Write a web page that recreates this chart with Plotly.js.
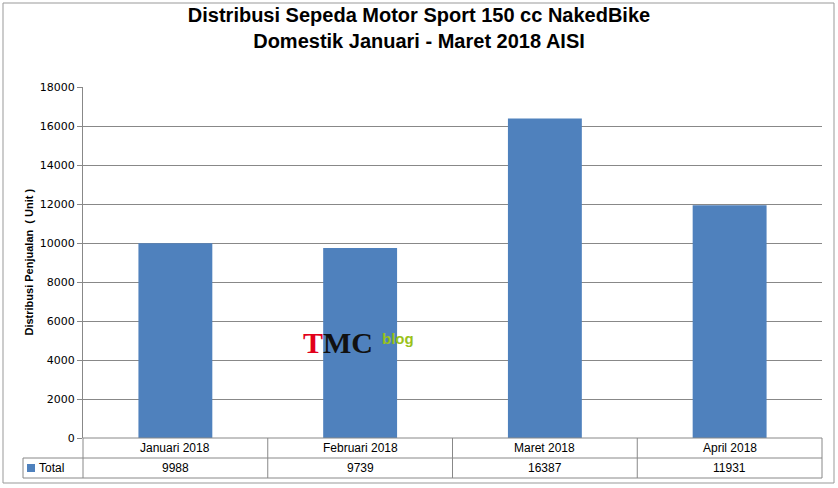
<!DOCTYPE html><html><head><script src="https://cdn.plot.ly/plotly-3.0.1.min.js"></script>
<style>body{margin:0}</style></head><body><div id="c" style="width:838px;height:488px"></div><script>
const categories=["Januari 2018","Februari 2018","Maret 2018","April 2018"];
const totals=[9988,9739,16387,11931];
const seriesName="Total";
const W=838,H=488,L=83,R=822,T=87,B=438;
const px=x=>(x-L)/(R-L), py=y=>(B-y)/(B-T);
const line='#888';
const shapes=[
 {type:'rect',xref:'paper',yref:'paper',x0:px(3),x1:px(834),y0:py(483),y1:py(3),line:{color:'#999',width:1}},
 {type:'line',xref:'paper',yref:'paper',x0:px(L),x1:px(R),y0:py(438),y1:py(438),line:{color:line,width:1}},
 {type:'line',xref:'paper',yref:'paper',x0:px(23),x1:px(R),y0:py(458),y1:py(458),line:{color:line,width:1}},
 {type:'line',xref:'paper',yref:'paper',x0:px(23),x1:px(R),y0:py(478),y1:py(478),line:{color:line,width:1}},
 {type:'line',xref:'paper',yref:'paper',x0:px(23),x1:px(23),y0:py(458),y1:py(478),line:{color:line,width:1}},
 {type:'rect',xref:'paper',yref:'paper',x0:px(27),x1:px(35),y0:py(472),y1:py(464),fillcolor:'#4f81bd',line:{width:0}}
];
const ann=[];
const tf={family:'Liberation Sans Narrow, Liberation Sans',size:12,color:'#000'};
for(let i=0;i<=categories.length;i++){const x=i/categories.length;
 shapes.push({type:'line',xref:'paper',yref:'paper',x0:x,x1:x,y0:py(438),y1:py(478),line:{color:line,width:1}});}
categories.forEach((c,i)=>{const x=(i+0.5)/categories.length;
 ann.push({xref:'paper',yref:'paper',x:x,y:py(448),xanchor:'center',yanchor:'middle',text:c,showarrow:false,font:tf});
 ann.push({xref:'paper',yref:'paper',x:x,y:py(468),xanchor:'center',yanchor:'middle',text:String(totals[i]),showarrow:false,font:tf});});
ann.push({xref:'paper',yref:'paper',x:px(37),xanchor:'left',yanchor:'middle',y:py(468),text:seriesName,showarrow:false,font:tf});
ann.push({xref:'paper',yref:'paper',x:px(28),xanchor:'center',yanchor:'middle',y:0.5,text:'<b>Distribusi Penjualan  ( Unit )</b>',textangle:-90,showarrow:false,font:{family:'Liberation Sans Narrow, Liberation Sans',size:11,color:'#000'}});
ann.push({xref:'paper',yref:'paper',x:px(338),y:py(342),xanchor:'center',yanchor:'middle',text:'<b><span style="color:#e2001a">T</span>MC</b>',showarrow:false,font:{family:'Liberation Serif',size:30,color:'#111'}});
ann.push({xref:'paper',yref:'paper',x:px(398),y:py(338),xanchor:'center',yanchor:'middle',text:'<b>blog</b>',showarrow:false,font:{family:'Liberation Sans',size:15,color:'#9ac21a'}});
Plotly.newPlot('c',[{type:'bar',x:categories,y:totals,name:seriesName,marker:{color:'#4f81bd'},width:0.4}],{
 width:W,height:H,margin:{l:L,r:W-R,t:T,b:H-B},showlegend:false,paper_bgcolor:'#fff',plot_bgcolor:'#fff',
 title:{text:'<b>Distribusi Sepeda Motor Sport 150 cc NakedBike<br>Domestik Januari - Maret 2018 AISI</b>',x:0.5,xanchor:'center',y:0.955,yanchor:'top',font:{family:'Liberation Sans Narrow, Liberation Sans',size:20,color:'#000'}},
 xaxis:{showticklabels:false,showline:false,ticks:'',fixedrange:true},
 yaxis:{range:[0,18000],dtick:2000,tickformat:'d',showline:true,linecolor:line,gridcolor:line,ticks:'outside',ticklen:5,tickcolor:line,tickfont:{family:'DejaVu Sans',size:11,color:'#000'},zeroline:false},
 shapes:shapes,annotations:ann,bargap:0.6
},{displayModeBar:false,staticPlot:true});
</script></body></html>
